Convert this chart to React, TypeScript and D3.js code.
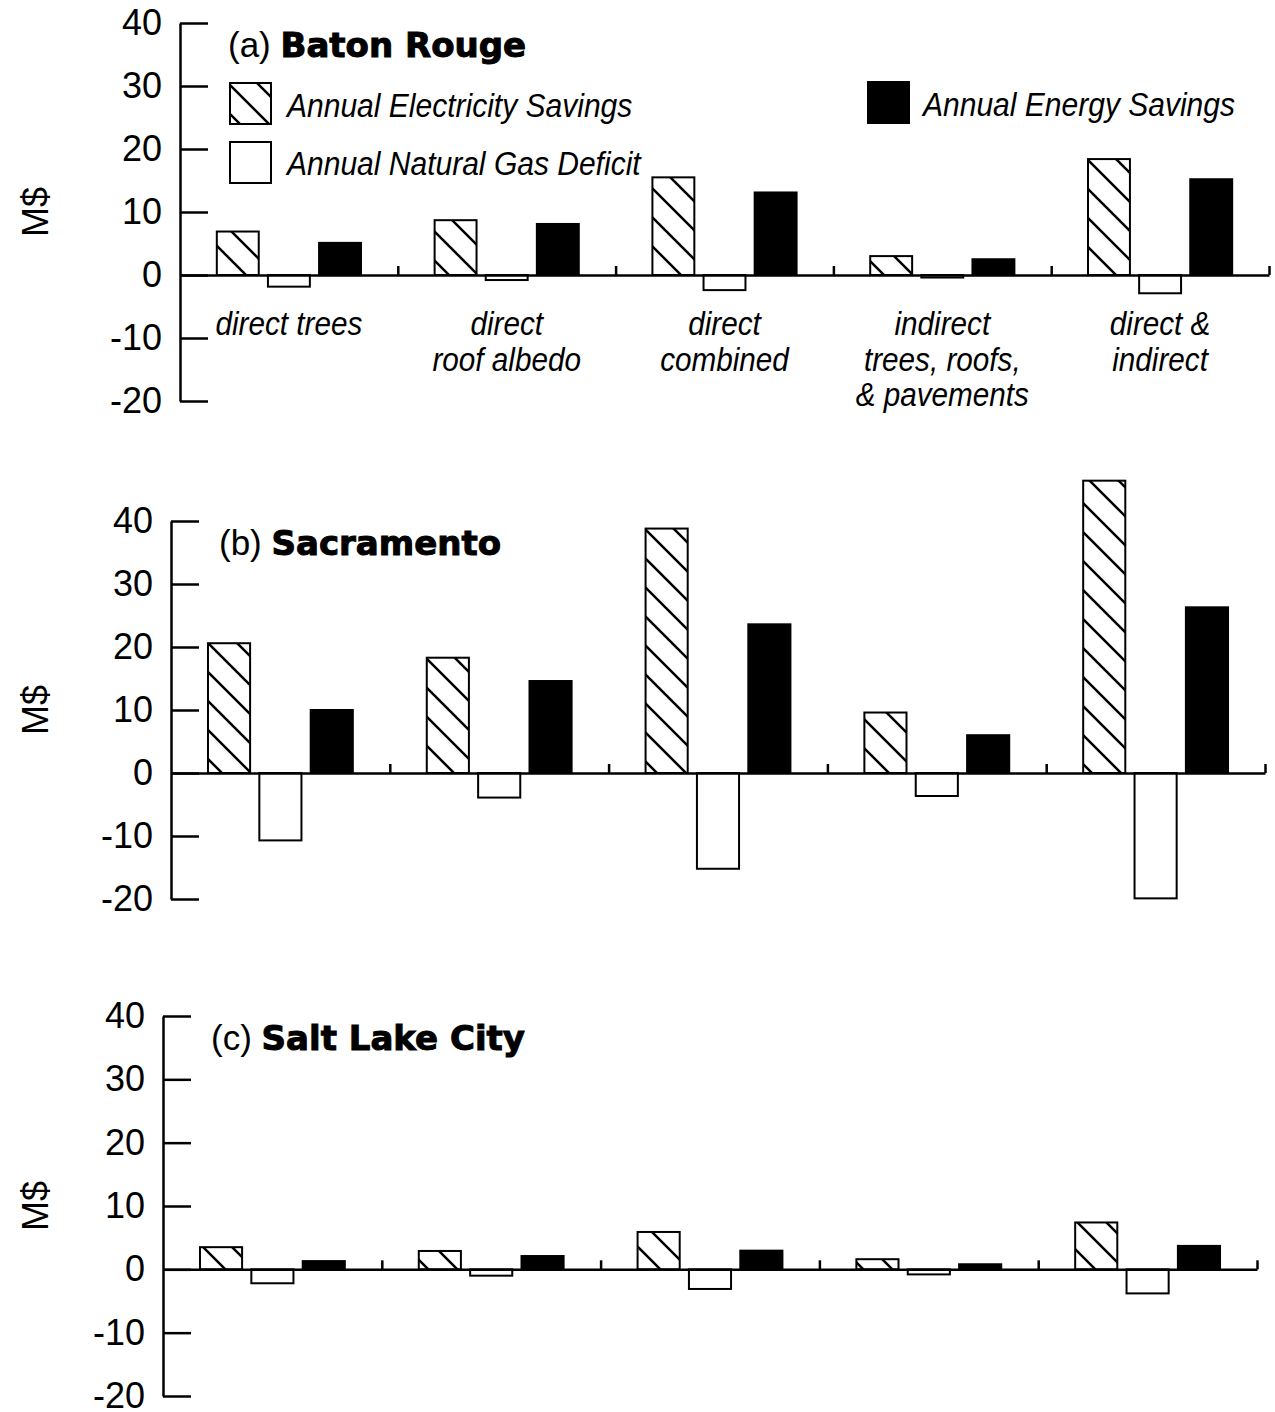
import React, { useEffect, useRef } from 'react';
import * as d3 from 'd3';

// group labels under the bars (only shown on panel a)
const categories = [
  ['direct trees'],
  ['direct', 'roof albedo'],
  ['direct', 'combined'],
  ['indirect', 'trees, roofs,', '& pavements'],
  ['direct &', 'indirect'],
];
const seriesNames = ['Annual Electricity Savings', 'Annual Natural Gas Deficit', 'Annual Energy Savings'];
const yTicks = [-20, -10, 0, 10, 20, 30, 40];

// values in M$
const batonRougeElec = [6.9, 8.7, 15.5, 3.0, 18.4];
const batonRougeGas = [-1.85, -0.8, -2.4, -0.4, -2.9];
const batonRougeEnergy = [5.1, 8.1, 13.1, 2.5, 15.2];

const sacramentoElec = [20.6, 18.3, 38.8, 9.6, 46.4];
const sacramentoGas = [-10.7, -3.9, -15.2, -3.65, -19.9];
const sacramentoEnergy = [10.0, 14.6, 23.6, 6.0, 26.3];

const saltLakeElec = [3.5, 2.9, 5.9, 1.6, 7.4];
const saltLakeGas = [-2.2, -1.0, -3.1, -0.8, -3.8];
const saltLakeEnergy = [1.3, 2.1, 2.95, 0.8, 3.7];

const panels = [
  { tag: '(a) ', city: 'Baton Rouge', left: 180, right: 1269, top: 23, bottom: 401,
    series: [batonRougeElec, batonRougeGas, batonRougeEnergy] },
  { tag: '(b) ', city: 'Sacramento', left: 171, right: 1265, top: 521, bottom: 899,
    series: [sacramentoElec, sacramentoGas, sacramentoEnergy] },
  { tag: '(c) ', city: 'Salt Lake City', left: 163, right: 1257, top: 1016, bottom: 1396,
    series: [saltLakeElec, saltLakeGas, saltLakeEnergy] },
];

const fills = ['url(#hatch)', '#fff', '#000'];
const sans = 'Liberation Sans, Arial, Helvetica, sans-serif';
const heavy = 'DejaVu Sans, Verdana, sans-serif';

export default function App() {
  const ref = useRef<SVGSVGElement>(null);

  useEffect(() => {
    const svg = d3.select(ref.current);
    svg.selectAll('*').remove();

    const hs = 29;
    const pat = svg.append('defs').append('pattern')
      .attr('id', 'hatch')
      .attr('patternUnits', 'userSpaceOnUse')
      .attr('width', hs)
      .attr('height', hs);
    pat.append('rect').attr('width', hs).attr('height', hs).attr('fill', '#fff');
    pat.append('path')
      .attr('d', `M0,0L${hs},${hs}M-4,${hs - 4}L4,${hs + 4}M${hs - 4},-4L${hs + 4},4`)
      .attr('stroke', '#000')
      .attr('stroke-width', 2.5);

    panels.forEach((p, pi) => {
      const y = d3.scaleLinear().domain([-20, 40]).range([p.bottom, p.top]);
      const x0 = d3.scaleBand<number>().domain(d3.range(categories.length)).range([p.left, p.right]);
      const x1 = d3.scaleBand<number>().domain(d3.range(seriesNames.length))
        .range([0, x0.bandwidth()])
        .paddingInner(0.18)
        .paddingOuter(0.72);

      const g = svg.append('g');

      // bars
      p.series.forEach((vals, si) => {
        g.append('g').selectAll('rect')
          .data(vals)
          .enter()
          .append('rect')
          .attr('x', (d, i) => x0(i)! + x1(si)!)
          .attr('y', d => y(Math.max(0, d)))
          .attr('width', x1.bandwidth())
          .attr('height', d => Math.abs(y(d) - y(0)))
          .attr('fill', fills[si])
          .attr('stroke', '#000')
          .attr('stroke-width', 2);
      });

      // y axis, ticks pointing inward
      const yAxis = g.append('g')
        .attr('transform', `translate(${p.left},0)`)
        .call(d3.axisLeft(y).tickValues(yTicks).tickSizeInner(-28).tickSizeOuter(0).tickPadding(18)
          .tickFormat(d => String(d)));
      yAxis.selectAll('path, line').attr('stroke', '#000').attr('stroke-width', 2.5);
      yAxis.selectAll('text')
        .attr('fill', '#000')
        .style('font-family', sans)
        .style('font-size', '36px');

      // x axis along zero, small upward ticks at group boundaries
      const xb = d3.scaleLinear().domain([0, categories.length]).range([p.left, p.right]);
      const xAxis = g.append('g')
        .attr('transform', `translate(0,${y(0)})`)
        .call(d3.axisTop(xb).tickValues(d3.range(1, categories.length + 1)).tickSize(9).tickSizeOuter(0).tickFormat(() => ''));
      xAxis.selectAll('path, line').attr('stroke', '#000').attr('stroke-width', 2.5);

      // y label
      g.append('text')
        .attr('transform', `translate(35,${y(10)}) rotate(-90)`)
        .attr('text-anchor', 'middle')
        .attr('dominant-baseline', 'central')
        .style('font-family', sans)
        .style('font-size', '36px')
        .text('M$');

      // panel title
      const title = g.append('text')
        .attr('x', p.left + 48)
        .attr('y', p.top + 34);
      title.append('tspan')
        .style('font-family', sans)
        .style('font-size', '35px')
        .text(p.tag);
      title.append('tspan')
        .style('font-family', heavy)
        .style('font-weight', 'bold')
        .style('font-size', '34px')
        .attr('stroke', '#000')
        .attr('stroke-width', 1)
        .text(p.city);

      if (pi === 0) {
        // category names
        categories.forEach((lines, i) => {
          lines.forEach((ln, k) => {
            g.append('text')
              .attr('transform', `translate(${x0(i)! + x0.bandwidth() / 2},${y(0) + 60 + k * 35.5}) scale(0.9,1)`)
              .attr('text-anchor', 'middle')
              .style('font-family', sans)
              .style('font-style', 'italic')
              .style('font-size', '33px')
              .text(ln);
          });
        });

        // legend
        const legendPos = [
          { bx: 230, by: 83, tx: 287, ty: 117 },
          { bx: 230, by: 142, tx: 287, ty: 175 },
          { bx: 868, by: 82, tx: 923, ty: 116 },
        ];
        seriesNames.forEach((name, si) => {
          const lp = legendPos[si];
          g.append('rect')
            .attr('x', lp.bx)
            .attr('y', lp.by)
            .attr('width', 41)
            .attr('height', 41)
            .attr('fill', fills[si])
            .attr('stroke', '#000')
            .attr('stroke-width', 2);
          g.append('text')
            .attr('transform', `translate(${lp.tx},${lp.ty}) scale(0.91,1)`)
            .style('font-family', sans)
            .style('font-style', 'italic')
            .style('font-size', '33px')
            .text(name);
        });
      }
    });
  }, []);

  return (
    <svg
      ref={ref}
      width={1275}
      height={1412}
      style={{ position: 'absolute', left: 0, top: 0, background: '#fff' }}
    />
  );
}
